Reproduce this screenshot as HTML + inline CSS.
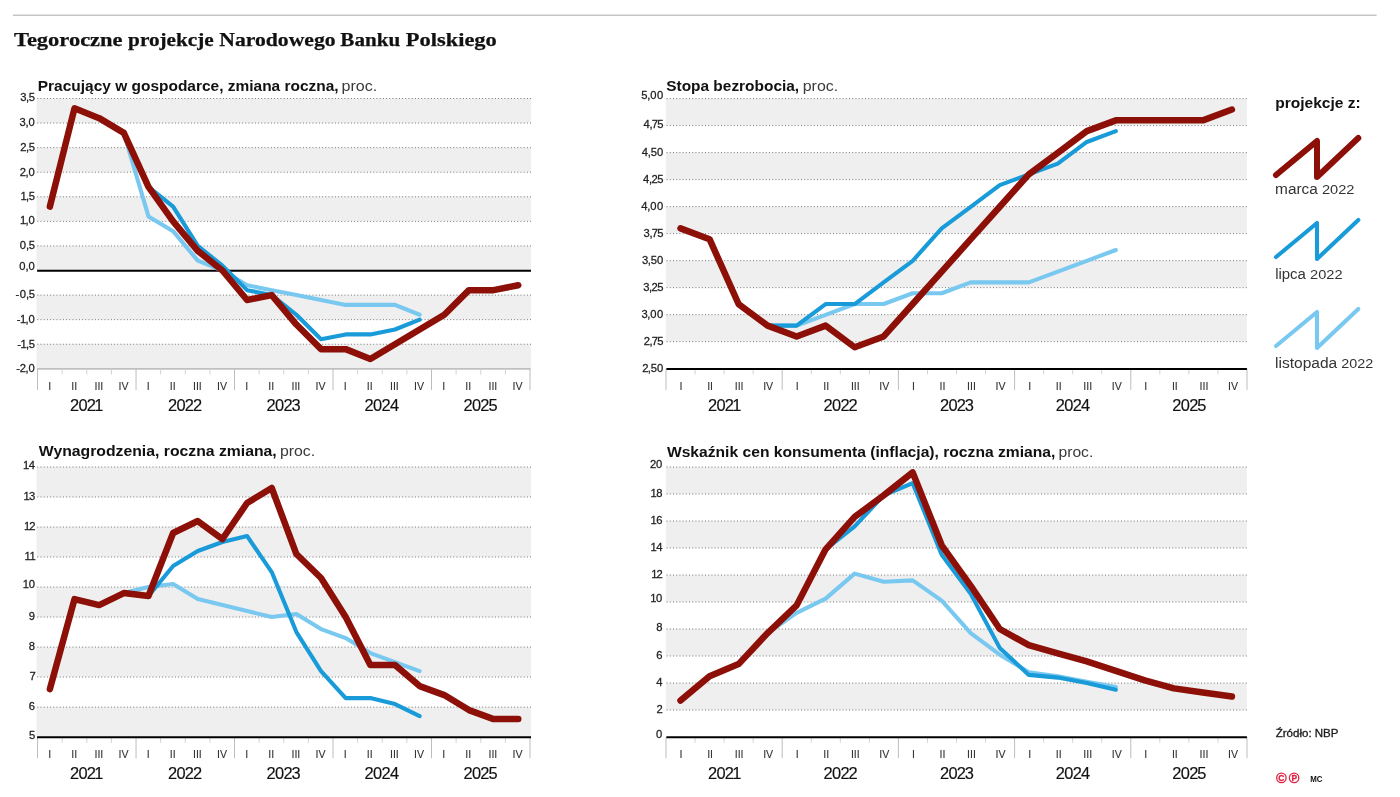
<!DOCTYPE html>
<html lang="pl"><head><meta charset="utf-8">
<title>Tegoroczne projekcje Narodowego Banku Polskiego</title>
<style>
html,body{margin:0;padding:0;background:#fff;}
body{width:1400px;height:797px;overflow:hidden;}
svg{display:block;}
text{font-family:'Liberation Sans', sans-serif;}
.ttl{font-family:'Liberation Serif', serif;font-weight:bold;fill:#111;stroke:#111;stroke-width:0.25px;}
.ct{font-weight:bold;fill:#111;}
.cp{font-weight:normal;fill:#3a3a3a;}
.yl{fill:#222;stroke:#222;stroke-width:0.25px;}
.ql{fill:#333;stroke:#333;stroke-width:0.1px;text-anchor:middle;}
.yr{fill:#111;stroke:#111;stroke-width:0.15px;}
.lg{fill:#333;}
.lgt{font-weight:bold;fill:#111;}
.src{fill:#1c1c1c;stroke:#1c1c1c;stroke-width:0.3px;}
.ln{fill:none;stroke-linejoin:round;stroke-linecap:round;}
</style></head><body>
<svg width="1400" height="797" viewBox="0 0 1400 797">
<rect x="0" y="0" width="1400" height="797" fill="#ffffff"/>
<rect x="13" y="14.6" width="1363.6" height="1.25" fill="#bbbbbb"/>
<text><tspan class="ttl" x="13.96" y="45.6" font-size="19.4" textLength="108.64" lengthAdjust="spacingAndGlyphs">Tegoroczne</tspan> <tspan class="ttl" x="128.09" y="45.6" font-size="19.4" textLength="85.66" lengthAdjust="spacingAndGlyphs">projekcje</tspan> <tspan class="ttl" x="219.28" y="45.6" font-size="19.4" textLength="116.29" lengthAdjust="spacingAndGlyphs">Narodowego</tspan> <tspan class="ttl" x="340.38" y="45.6" font-size="19.4" textLength="59.75" lengthAdjust="spacingAndGlyphs">Banku</tspan> <tspan class="ttl" x="405.86" y="45.6" font-size="19.4" textLength="90.94" lengthAdjust="spacingAndGlyphs">Polskiego</tspan></text>
<g>
<rect x="36.5" y="98.4" width="494.5" height="24.57" fill="#efefef"/>
<rect x="36.5" y="147.55" width="494.5" height="24.57" fill="#efefef"/>
<rect x="36.5" y="196.69" width="494.5" height="24.57" fill="#efefef"/>
<rect x="36.5" y="245.84" width="494.5" height="24.57" fill="#efefef"/>
<rect x="36.5" y="294.98" width="494.5" height="24.57" fill="#efefef"/>
<rect x="36.5" y="344.13" width="494.5" height="24.57" fill="#efefef"/>
<line x1="37.3" y1="98.5" x2="531" y2="98.5" stroke="#767676" stroke-width="1" stroke-dasharray="1 2.2"/>
<line x1="37.3" y1="123.07" x2="531" y2="123.07" stroke="#767676" stroke-width="1" stroke-dasharray="1 2.2"/>
<line x1="37.3" y1="147.65" x2="531" y2="147.65" stroke="#767676" stroke-width="1" stroke-dasharray="1 2.2"/>
<line x1="37.3" y1="172.22" x2="531" y2="172.22" stroke="#767676" stroke-width="1" stroke-dasharray="1 2.2"/>
<line x1="37.3" y1="196.79" x2="531" y2="196.79" stroke="#767676" stroke-width="1" stroke-dasharray="1 2.2"/>
<line x1="37.3" y1="221.36" x2="531" y2="221.36" stroke="#767676" stroke-width="1" stroke-dasharray="1 2.2"/>
<line x1="37.3" y1="245.94" x2="531" y2="245.94" stroke="#767676" stroke-width="1" stroke-dasharray="1 2.2"/>
<line x1="37.3" y1="295.08" x2="531" y2="295.08" stroke="#767676" stroke-width="1" stroke-dasharray="1 2.2"/>
<line x1="37.3" y1="319.65" x2="531" y2="319.65" stroke="#767676" stroke-width="1" stroke-dasharray="1 2.2"/>
<line x1="37.3" y1="344.23" x2="531" y2="344.23" stroke="#767676" stroke-width="1" stroke-dasharray="1 2.2"/>
<line x1="37.05" y1="368.9" x2="530.5" y2="368.9" stroke="#c0c0c0" stroke-width="1.6"/>
<line x1="37.55" y1="368.7" x2="37.55" y2="390" stroke="#bdbdbd" stroke-width="1"/>
<line x1="62.17" y1="368.7" x2="62.17" y2="374.6" stroke="#d2d2d2" stroke-width="1"/>
<line x1="86.79" y1="368.7" x2="86.79" y2="374.6" stroke="#d2d2d2" stroke-width="1"/>
<line x1="111.42" y1="368.7" x2="111.42" y2="374.6" stroke="#d2d2d2" stroke-width="1"/>
<line x1="136.04" y1="368.7" x2="136.04" y2="390" stroke="#bdbdbd" stroke-width="1"/>
<line x1="160.66" y1="368.7" x2="160.66" y2="374.6" stroke="#d2d2d2" stroke-width="1"/>
<line x1="185.28" y1="368.7" x2="185.28" y2="374.6" stroke="#d2d2d2" stroke-width="1"/>
<line x1="209.91" y1="368.7" x2="209.91" y2="374.6" stroke="#d2d2d2" stroke-width="1"/>
<line x1="234.53" y1="368.7" x2="234.53" y2="390" stroke="#bdbdbd" stroke-width="1"/>
<line x1="259.15" y1="368.7" x2="259.15" y2="374.6" stroke="#d2d2d2" stroke-width="1"/>
<line x1="283.77" y1="368.7" x2="283.77" y2="374.6" stroke="#d2d2d2" stroke-width="1"/>
<line x1="308.4" y1="368.7" x2="308.4" y2="374.6" stroke="#d2d2d2" stroke-width="1"/>
<line x1="333.02" y1="368.7" x2="333.02" y2="390" stroke="#bdbdbd" stroke-width="1"/>
<line x1="357.64" y1="368.7" x2="357.64" y2="374.6" stroke="#d2d2d2" stroke-width="1"/>
<line x1="382.26" y1="368.7" x2="382.26" y2="374.6" stroke="#d2d2d2" stroke-width="1"/>
<line x1="406.89" y1="368.7" x2="406.89" y2="374.6" stroke="#d2d2d2" stroke-width="1"/>
<line x1="431.51" y1="368.7" x2="431.51" y2="390" stroke="#bdbdbd" stroke-width="1"/>
<line x1="456.13" y1="368.7" x2="456.13" y2="374.6" stroke="#d2d2d2" stroke-width="1"/>
<line x1="480.75" y1="368.7" x2="480.75" y2="374.6" stroke="#d2d2d2" stroke-width="1"/>
<line x1="505.38" y1="368.7" x2="505.38" y2="374.6" stroke="#d2d2d2" stroke-width="1"/>
<line x1="530" y1="368.7" x2="530" y2="390" stroke="#bdbdbd" stroke-width="1"/>
<line x1="37.1" y1="270.71" x2="531" y2="270.71" stroke="#000" stroke-width="2"/>
<text class="yl" transform="translate(34.55 101) scale(1.06 1)" font-size="10.6" x="-13.58 -8.09 -5.44" y="0">3,5</text>
<text class="yl" transform="translate(34.55 126.37) scale(1.06 1)" font-size="10.6" x="-14.14 -8.65 -5.72" y="0">3,0</text>
<text class="yl" transform="translate(34.55 150.95) scale(1.06 1)" font-size="10.6" x="-13.39 -8.09 -5.44" y="0">2,5</text>
<text class="yl" transform="translate(34.55 175.52) scale(1.06 1)" font-size="10.6" x="-13.96 -8.65 -5.72" y="0">2,0</text>
<text class="yl" transform="translate(34.55 200.09) scale(1.06 1)" font-size="10.6" x="-13.24 -8.09 -5.44" y="0">1,5</text>
<text class="yl" transform="translate(34.55 223.96) scale(1.06 1)" font-size="10.6" x="-13.81 -8.65 -5.72" y="0">1,0</text>
<text class="yl" transform="translate(34.55 249.24) scale(1.06 1)" font-size="10.6" x="-13.93 -8.09 -5.44" y="0">0,5</text>
<text class="yl" transform="translate(34.55 270.41) scale(1.06 1)" font-size="10.6" x="-14.5 -8.65 -5.72" y="0">0,0</text>
<text class="yl" transform="translate(34.55 298.38) scale(1.06 1)" font-size="10.6" x="-17.93 -13.93 -8.09 -5.44" y="0">-0,5</text>
<text class="yl" transform="translate(34.55 322.95) scale(1.06 1)" font-size="10.6" x="-16.8 -13.81 -8.65 -5.72" y="0">-1,0</text>
<text class="yl" transform="translate(34.55 347.53) scale(1.06 1)" font-size="10.6" x="-16.23 -13.24 -8.09 -5.44" y="0">-1,5</text>
<text class="yl" transform="translate(34.55 372.1) scale(1.06 1)" font-size="10.6" x="-17.36 -13.96 -8.65 -5.72" y="0">-2,0</text>
<text class="ql" x="49.66" y="390" font-size="10.6">I</text>
<text class="ql" x="74.28" y="390" font-size="10.6">II</text>
<text class="ql" x="98.91" y="390" font-size="10.6">III</text>
<text class="ql" x="123.53" y="390" font-size="10.6">IV</text>
<text class="ql" x="148.15" y="390" font-size="10.6">I</text>
<text class="ql" x="172.77" y="390" font-size="10.6">II</text>
<text class="ql" x="197.4" y="390" font-size="10.6">III</text>
<text class="ql" x="222.02" y="390" font-size="10.6">IV</text>
<text class="ql" x="246.64" y="390" font-size="10.6">I</text>
<text class="ql" x="271.26" y="390" font-size="10.6">II</text>
<text class="ql" x="295.89" y="390" font-size="10.6">III</text>
<text class="ql" x="320.51" y="390" font-size="10.6">IV</text>
<text class="ql" x="345.13" y="390" font-size="10.6">I</text>
<text class="ql" x="369.75" y="390" font-size="10.6">II</text>
<text class="ql" x="394.38" y="390" font-size="10.6">III</text>
<text class="ql" x="419" y="390" font-size="10.6">IV</text>
<text class="ql" x="443.62" y="390" font-size="10.6">I</text>
<text class="ql" x="468.24" y="390" font-size="10.6">II</text>
<text class="ql" x="492.87" y="390" font-size="10.6">III</text>
<text class="ql" x="517.49" y="390" font-size="10.6">IV</text>
<text class="yr" transform="translate(86.49 411) scale(1.04 1)" font-size="15.8" x="-15.91 -7.75 0.34 7.4" y="0">2021</text>
<text class="yr" transform="translate(184.98 411) scale(1.04 1)" font-size="15.8" x="-16.44 -8.28 -0.19 7.6" y="0">2022</text>
<text class="yr" transform="translate(283.47 411) scale(1.04 1)" font-size="15.8" x="-16.3 -8.13 -0.05 7.67" y="0">2023</text>
<text class="yr" transform="translate(381.96 411) scale(1.04 1)" font-size="15.8" x="-16.68 -8.52 -0.43 7.67" y="0">2024</text>
<text class="yr" transform="translate(480.45 411) scale(1.04 1)" font-size="15.8" x="-16.4 -8.23 -0.15 7.63" y="0">2025</text>
<polyline class="ln" points="123.82,132.9 148.47,216.45 173.12,231.19 197.78,260.68 222.43,270.51 247.08,285.25 271.73,290.17 296.39,295.08 321.04,300 345.69,304.91 370.34,304.91 395,304.91 419.65,314.74" stroke="#79c8f0" stroke-width="4.1"/>
<polyline class="ln" points="123.82,132.9 148.47,186.96 173.12,206.62 197.78,245.94 222.43,265.59 247.08,290.17 271.73,295.08 296.39,314.74 321.04,339.31 345.69,334.4 370.34,334.4 395,329.48 419.65,319.65" stroke="#189bd8" stroke-width="4.1"/>
<polyline class="ln" points="49.86,206.62 74.51,108.33 99.17,118.16 123.82,132.9 148.47,186.96 173.12,221.36 197.78,250.85 222.43,270.51 247.08,300 271.73,295.08 296.39,324.57 321.04,349.14 345.69,349.14 370.34,358.97 395,344.23 419.65,329.48 444.3,314.74 468.95,290.17 493.61,290.17 518.26,285.25" stroke="#8c1007" stroke-width="6.5"/>
<text><tspan class="ct" x="37.79" y="90.7" font-size="15.3" textLength="300.86" lengthAdjust="spacingAndGlyphs">Pracujący w gospodarce, zmiana roczna,</tspan> <tspan class="cp" x="341.53" y="90.7" font-size="15.3" textLength="35.79" lengthAdjust="spacingAndGlyphs">proc.</tspan></text>
</g>
<g>
<rect x="665.8" y="98.5" width="581.1" height="27.01" fill="#efefef"/>
<rect x="665.8" y="152.52" width="581.1" height="27.01" fill="#efefef"/>
<rect x="665.8" y="206.54" width="581.1" height="27.01" fill="#efefef"/>
<rect x="665.8" y="260.56" width="581.1" height="27.01" fill="#efefef"/>
<rect x="665.8" y="314.58" width="581.1" height="27.01" fill="#efefef"/>
<line x1="666.6" y1="98.6" x2="1246.9" y2="98.6" stroke="#767676" stroke-width="1" stroke-dasharray="1 2.2"/>
<line x1="666.6" y1="125.61" x2="1246.9" y2="125.61" stroke="#767676" stroke-width="1" stroke-dasharray="1 2.2"/>
<line x1="666.6" y1="152.62" x2="1246.9" y2="152.62" stroke="#767676" stroke-width="1" stroke-dasharray="1 2.2"/>
<line x1="666.6" y1="179.63" x2="1246.9" y2="179.63" stroke="#767676" stroke-width="1" stroke-dasharray="1 2.2"/>
<line x1="666.6" y1="206.64" x2="1246.9" y2="206.64" stroke="#767676" stroke-width="1" stroke-dasharray="1 2.2"/>
<line x1="666.6" y1="233.65" x2="1246.9" y2="233.65" stroke="#767676" stroke-width="1" stroke-dasharray="1 2.2"/>
<line x1="666.6" y1="260.66" x2="1246.9" y2="260.66" stroke="#767676" stroke-width="1" stroke-dasharray="1 2.2"/>
<line x1="666.6" y1="287.67" x2="1246.9" y2="287.67" stroke="#767676" stroke-width="1" stroke-dasharray="1 2.2"/>
<line x1="666.6" y1="314.68" x2="1246.9" y2="314.68" stroke="#767676" stroke-width="1" stroke-dasharray="1 2.2"/>
<line x1="666.6" y1="341.69" x2="1246.9" y2="341.69" stroke="#767676" stroke-width="1" stroke-dasharray="1 2.2"/>
<line x1="666" y1="368.6" x2="666" y2="389.9" stroke="#bdbdbd" stroke-width="1"/>
<line x1="695.05" y1="368.6" x2="695.05" y2="374.5" stroke="#d2d2d2" stroke-width="1"/>
<line x1="724.1" y1="368.6" x2="724.1" y2="374.5" stroke="#d2d2d2" stroke-width="1"/>
<line x1="753.15" y1="368.6" x2="753.15" y2="374.5" stroke="#d2d2d2" stroke-width="1"/>
<line x1="782.2" y1="368.6" x2="782.2" y2="389.9" stroke="#bdbdbd" stroke-width="1"/>
<line x1="811.25" y1="368.6" x2="811.25" y2="374.5" stroke="#d2d2d2" stroke-width="1"/>
<line x1="840.3" y1="368.6" x2="840.3" y2="374.5" stroke="#d2d2d2" stroke-width="1"/>
<line x1="869.35" y1="368.6" x2="869.35" y2="374.5" stroke="#d2d2d2" stroke-width="1"/>
<line x1="898.4" y1="368.6" x2="898.4" y2="389.9" stroke="#bdbdbd" stroke-width="1"/>
<line x1="927.45" y1="368.6" x2="927.45" y2="374.5" stroke="#d2d2d2" stroke-width="1"/>
<line x1="956.5" y1="368.6" x2="956.5" y2="374.5" stroke="#d2d2d2" stroke-width="1"/>
<line x1="985.55" y1="368.6" x2="985.55" y2="374.5" stroke="#d2d2d2" stroke-width="1"/>
<line x1="1014.6" y1="368.6" x2="1014.6" y2="389.9" stroke="#bdbdbd" stroke-width="1"/>
<line x1="1043.65" y1="368.6" x2="1043.65" y2="374.5" stroke="#d2d2d2" stroke-width="1"/>
<line x1="1072.7" y1="368.6" x2="1072.7" y2="374.5" stroke="#d2d2d2" stroke-width="1"/>
<line x1="1101.75" y1="368.6" x2="1101.75" y2="374.5" stroke="#d2d2d2" stroke-width="1"/>
<line x1="1130.8" y1="368.6" x2="1130.8" y2="389.9" stroke="#bdbdbd" stroke-width="1"/>
<line x1="1159.85" y1="368.6" x2="1159.85" y2="374.5" stroke="#d2d2d2" stroke-width="1"/>
<line x1="1188.9" y1="368.6" x2="1188.9" y2="374.5" stroke="#d2d2d2" stroke-width="1"/>
<line x1="1217.95" y1="368.6" x2="1217.95" y2="374.5" stroke="#d2d2d2" stroke-width="1"/>
<line x1="1247" y1="368.6" x2="1247" y2="389.9" stroke="#bdbdbd" stroke-width="1"/>
<line x1="666.4" y1="368.9" x2="1246.9" y2="368.9" stroke="#000" stroke-width="2"/>
<text class="yl" transform="translate(663 98.9) scale(1.06 1)" font-size="10.6" x="-20.44 -14.88 -11.95 -5.72" y="0">5,00</text>
<text class="yl" transform="translate(663 127.81) scale(1.06 1)" font-size="10.6" x="-18.48 -12.8 -10.66 -5.44" y="0">4,75</text>
<text class="yl" transform="translate(663 155.92) scale(1.06 1)" font-size="10.6" x="-19.99 -14.31 -11.67 -5.72" y="0">4,50</text>
<text class="yl" transform="translate(663 182.93) scale(1.06 1)" font-size="10.6" x="-18.86 -13.18 -10.85 -5.44" y="0">4,25</text>
<text class="yl" transform="translate(663 209.94) scale(1.06 1)" font-size="10.6" x="-20.56 -14.88 -11.95 -5.72" y="0">4,00</text>
<text class="yl" transform="translate(663 236.95) scale(1.06 1)" font-size="10.6" x="-18.29 -12.8 -10.66 -5.44" y="0">3,75</text>
<text class="yl" transform="translate(663 263.96) scale(1.06 1)" font-size="10.6" x="-19.8 -14.31 -11.67 -5.72" y="0">3,50</text>
<text class="yl" transform="translate(663 290.97) scale(1.06 1)" font-size="10.6" x="-18.67 -13.18 -10.85 -5.44" y="0">3,25</text>
<text class="yl" transform="translate(663 317.98) scale(1.06 1)" font-size="10.6" x="-20.37 -14.88 -11.95 -5.72" y="0">3,00</text>
<text class="yl" transform="translate(663 344.99) scale(1.06 1)" font-size="10.6" x="-18.11 -12.8 -10.66 -5.44" y="0">2,75</text>
<text class="yl" transform="translate(663 371.6) scale(1.06 1)" font-size="10.6" x="-19.62 -14.31 -11.67 -5.72" y="0">2,50</text>
<text class="ql" x="681.02" y="389.9" font-size="10.6">I</text>
<text class="ql" x="710.08" y="389.9" font-size="10.6">II</text>
<text class="ql" x="739.12" y="389.9" font-size="10.6">III</text>
<text class="ql" x="768.17" y="389.9" font-size="10.6">IV</text>
<text class="ql" x="797.23" y="389.9" font-size="10.6">I</text>
<text class="ql" x="826.27" y="389.9" font-size="10.6">II</text>
<text class="ql" x="855.33" y="389.9" font-size="10.6">III</text>
<text class="ql" x="884.38" y="389.9" font-size="10.6">IV</text>
<text class="ql" x="913.42" y="389.9" font-size="10.6">I</text>
<text class="ql" x="942.48" y="389.9" font-size="10.6">II</text>
<text class="ql" x="971.53" y="389.9" font-size="10.6">III</text>
<text class="ql" x="1000.58" y="389.9" font-size="10.6">IV</text>
<text class="ql" x="1029.62" y="389.9" font-size="10.6">I</text>
<text class="ql" x="1058.67" y="389.9" font-size="10.6">II</text>
<text class="ql" x="1087.72" y="389.9" font-size="10.6">III</text>
<text class="ql" x="1116.78" y="389.9" font-size="10.6">IV</text>
<text class="ql" x="1145.83" y="389.9" font-size="10.6">I</text>
<text class="ql" x="1174.88" y="389.9" font-size="10.6">II</text>
<text class="ql" x="1203.93" y="389.9" font-size="10.6">III</text>
<text class="ql" x="1232.97" y="389.9" font-size="10.6">IV</text>
<text class="yr" transform="translate(724.5 410.9) scale(1.04 1)" font-size="15.8" x="-15.91 -7.75 0.34 7.4" y="0">2021</text>
<text class="yr" transform="translate(840.7 410.9) scale(1.04 1)" font-size="15.8" x="-16.44 -8.28 -0.19 7.6" y="0">2022</text>
<text class="yr" transform="translate(956.9 410.9) scale(1.04 1)" font-size="15.8" x="-16.3 -8.13 -0.05 7.67" y="0">2023</text>
<text class="yr" transform="translate(1073.1 410.9) scale(1.04 1)" font-size="15.8" x="-16.68 -8.52 -0.43 7.67" y="0">2024</text>
<text class="yr" transform="translate(1189.3 410.9) scale(1.04 1)" font-size="15.8" x="-16.4 -8.23 -0.15 7.63" y="0">2025</text>
<polyline class="ln" points="767.58,325.63 796.61,325.63 825.62,314.83 854.65,304.03 883.66,304.03 912.68,293.22 941.71,293.22 970.73,282.42 999.75,282.42 1028.77,282.42 1057.78,271.61 1086.8,260.81 1115.83,250.01" stroke="#79c8f0" stroke-width="4.1"/>
<polyline class="ln" points="767.58,325.63 796.61,325.63 825.62,304.03 854.65,304.03 883.66,282.42 912.68,260.81 941.71,228.4 970.73,206.79 999.75,185.18 1028.77,174.38 1057.78,163.57 1086.8,141.97 1115.83,131.16" stroke="#189bd8" stroke-width="4.1"/>
<polyline class="ln" points="680.52,228.4 709.55,239.2 738.57,304.03 767.58,325.63 796.61,336.44 825.62,325.63 854.65,347.24 883.66,336.44 912.68,304.03 941.71,271.61 970.73,239.2 999.75,206.79 1028.77,174.38 1057.78,152.77 1086.8,131.16 1115.83,120.36 1144.85,120.36 1173.87,120.36 1202.89,120.36 1231.9,109.55" stroke="#8c1007" stroke-width="6.5"/>
<text><tspan class="ct" x="666.21" y="91.1" font-size="15.3" textLength="132.95" lengthAdjust="spacingAndGlyphs">Stopa bezrobocia,</tspan> <tspan class="cp" x="802.74" y="91.1" font-size="15.3" textLength="35.46" lengthAdjust="spacingAndGlyphs">proc.</tspan></text>
</g>
<g>
<rect x="36.5" y="466.9" width="494.5" height="30.01" fill="#efefef"/>
<rect x="36.5" y="526.92" width="494.5" height="30.01" fill="#efefef"/>
<rect x="36.5" y="586.94" width="494.5" height="30.01" fill="#efefef"/>
<rect x="36.5" y="646.97" width="494.5" height="30.01" fill="#efefef"/>
<rect x="36.5" y="706.99" width="494.5" height="30.01" fill="#efefef"/>
<line x1="37.3" y1="467" x2="531" y2="467" stroke="#767676" stroke-width="1" stroke-dasharray="1 2.2"/>
<line x1="37.3" y1="497.01" x2="531" y2="497.01" stroke="#767676" stroke-width="1" stroke-dasharray="1 2.2"/>
<line x1="37.3" y1="527.02" x2="531" y2="527.02" stroke="#767676" stroke-width="1" stroke-dasharray="1 2.2"/>
<line x1="37.3" y1="557.03" x2="531" y2="557.03" stroke="#767676" stroke-width="1" stroke-dasharray="1 2.2"/>
<line x1="37.3" y1="587.04" x2="531" y2="587.04" stroke="#767676" stroke-width="1" stroke-dasharray="1 2.2"/>
<line x1="37.3" y1="617.06" x2="531" y2="617.06" stroke="#767676" stroke-width="1" stroke-dasharray="1 2.2"/>
<line x1="37.3" y1="647.07" x2="531" y2="647.07" stroke="#767676" stroke-width="1" stroke-dasharray="1 2.2"/>
<line x1="37.3" y1="677.08" x2="531" y2="677.08" stroke="#767676" stroke-width="1" stroke-dasharray="1 2.2"/>
<line x1="37.3" y1="707.09" x2="531" y2="707.09" stroke="#767676" stroke-width="1" stroke-dasharray="1 2.2"/>
<line x1="37.55" y1="737" x2="37.55" y2="758.3" stroke="#bdbdbd" stroke-width="1"/>
<line x1="62.17" y1="737" x2="62.17" y2="742.9" stroke="#d2d2d2" stroke-width="1"/>
<line x1="86.79" y1="737" x2="86.79" y2="742.9" stroke="#d2d2d2" stroke-width="1"/>
<line x1="111.42" y1="737" x2="111.42" y2="742.9" stroke="#d2d2d2" stroke-width="1"/>
<line x1="136.04" y1="737" x2="136.04" y2="758.3" stroke="#bdbdbd" stroke-width="1"/>
<line x1="160.66" y1="737" x2="160.66" y2="742.9" stroke="#d2d2d2" stroke-width="1"/>
<line x1="185.28" y1="737" x2="185.28" y2="742.9" stroke="#d2d2d2" stroke-width="1"/>
<line x1="209.91" y1="737" x2="209.91" y2="742.9" stroke="#d2d2d2" stroke-width="1"/>
<line x1="234.53" y1="737" x2="234.53" y2="758.3" stroke="#bdbdbd" stroke-width="1"/>
<line x1="259.15" y1="737" x2="259.15" y2="742.9" stroke="#d2d2d2" stroke-width="1"/>
<line x1="283.77" y1="737" x2="283.77" y2="742.9" stroke="#d2d2d2" stroke-width="1"/>
<line x1="308.4" y1="737" x2="308.4" y2="742.9" stroke="#d2d2d2" stroke-width="1"/>
<line x1="333.02" y1="737" x2="333.02" y2="758.3" stroke="#bdbdbd" stroke-width="1"/>
<line x1="357.64" y1="737" x2="357.64" y2="742.9" stroke="#d2d2d2" stroke-width="1"/>
<line x1="382.26" y1="737" x2="382.26" y2="742.9" stroke="#d2d2d2" stroke-width="1"/>
<line x1="406.89" y1="737" x2="406.89" y2="742.9" stroke="#d2d2d2" stroke-width="1"/>
<line x1="431.51" y1="737" x2="431.51" y2="758.3" stroke="#bdbdbd" stroke-width="1"/>
<line x1="456.13" y1="737" x2="456.13" y2="742.9" stroke="#d2d2d2" stroke-width="1"/>
<line x1="480.75" y1="737" x2="480.75" y2="742.9" stroke="#d2d2d2" stroke-width="1"/>
<line x1="505.38" y1="737" x2="505.38" y2="742.9" stroke="#d2d2d2" stroke-width="1"/>
<line x1="530" y1="737" x2="530" y2="758.3" stroke="#bdbdbd" stroke-width="1"/>
<line x1="37.1" y1="737.3" x2="531" y2="737.3" stroke="#000" stroke-width="2"/>
<text class="yl" transform="translate(34.7 469.4) scale(1.06 1)" font-size="10.6" x="-10.98 -5.56" y="0">14</text>
<text class="yl" transform="translate(34.7 499.81) scale(1.06 1)" font-size="10.6" x="-10.6 -5.37" y="0">13</text>
<text class="yl" transform="translate(34.7 530.32) scale(1.06 1)" font-size="10.6" x="-10.13 -5.18" y="0">12</text>
<text class="yl" transform="translate(34.7 559.93) scale(1.06 1)" font-size="10.6" x="-9.56 -5.03" y="0">11</text>
<text class="yl" transform="translate(34.7 587.74) scale(1.06 1)" font-size="10.6" x="-11.26 -5.72" y="0">10</text>
<text class="yl" transform="translate(34.7 620.16) scale(1.06 1)" font-size="10.6" x="-5.54" y="0">9</text>
<text class="yl" transform="translate(34.7 650.37) scale(1.06 1)" font-size="10.6" x="-5.54" y="0">8</text>
<text class="yl" transform="translate(34.7 680.38) scale(1.06 1)" font-size="10.6" x="-5" y="0">7</text>
<text class="yl" transform="translate(34.7 710.39) scale(1.06 1)" font-size="10.6" x="-5.59" y="0">6</text>
<text class="yl" transform="translate(34.7 738.5) scale(1.06 1)" font-size="10.6" x="-5.44" y="0">5</text>
<text class="ql" x="49.66" y="758.3" font-size="10.6">I</text>
<text class="ql" x="74.28" y="758.3" font-size="10.6">II</text>
<text class="ql" x="98.91" y="758.3" font-size="10.6">III</text>
<text class="ql" x="123.53" y="758.3" font-size="10.6">IV</text>
<text class="ql" x="148.15" y="758.3" font-size="10.6">I</text>
<text class="ql" x="172.77" y="758.3" font-size="10.6">II</text>
<text class="ql" x="197.4" y="758.3" font-size="10.6">III</text>
<text class="ql" x="222.02" y="758.3" font-size="10.6">IV</text>
<text class="ql" x="246.64" y="758.3" font-size="10.6">I</text>
<text class="ql" x="271.26" y="758.3" font-size="10.6">II</text>
<text class="ql" x="295.89" y="758.3" font-size="10.6">III</text>
<text class="ql" x="320.51" y="758.3" font-size="10.6">IV</text>
<text class="ql" x="345.13" y="758.3" font-size="10.6">I</text>
<text class="ql" x="369.75" y="758.3" font-size="10.6">II</text>
<text class="ql" x="394.38" y="758.3" font-size="10.6">III</text>
<text class="ql" x="419" y="758.3" font-size="10.6">IV</text>
<text class="ql" x="443.62" y="758.3" font-size="10.6">I</text>
<text class="ql" x="468.24" y="758.3" font-size="10.6">II</text>
<text class="ql" x="492.87" y="758.3" font-size="10.6">III</text>
<text class="ql" x="517.49" y="758.3" font-size="10.6">IV</text>
<text class="yr" transform="translate(86.49 779.3) scale(1.04 1)" font-size="15.8" x="-15.91 -7.75 0.34 7.4" y="0">2021</text>
<text class="yr" transform="translate(184.98 779.3) scale(1.04 1)" font-size="15.8" x="-16.44 -8.28 -0.19 7.6" y="0">2022</text>
<text class="yr" transform="translate(283.47 779.3) scale(1.04 1)" font-size="15.8" x="-16.3 -8.13 -0.05 7.67" y="0">2023</text>
<text class="yr" transform="translate(381.96 779.3) scale(1.04 1)" font-size="15.8" x="-16.68 -8.52 -0.43 7.67" y="0">2024</text>
<text class="yr" transform="translate(480.45 779.3) scale(1.04 1)" font-size="15.8" x="-16.4 -8.23 -0.15 7.63" y="0">2025</text>
<polyline class="ln" points="123.82,593.05 148.47,587.04 173.12,584.04 197.78,599.05 222.43,605.05 247.08,611.05 271.73,617.06 296.39,614.05 321.04,629.06 345.69,638.06 370.34,653.07 395,662.07 419.65,671.08" stroke="#79c8f0" stroke-width="4.1"/>
<polyline class="ln" points="123.82,593.05 148.47,596.05 173.12,566.04 197.78,551.03 222.43,542.03 247.08,536.03 271.73,572.04 296.39,632.06 321.04,671.08 345.69,698.09 370.34,698.09 395,704.09 419.65,716.09" stroke="#189bd8" stroke-width="4.1"/>
<polyline class="ln" points="49.86,689.08 74.51,599.05 99.17,605.05 123.82,593.05 148.47,596.05 173.12,533.02 197.78,521.02 222.43,539.03 247.08,503.01 271.73,488.01 296.39,554.03 321.04,578.04 345.69,617.06 370.34,665.07 395,665.07 419.65,686.08 444.3,695.08 468.95,710.09 493.61,719.09 518.26,719.09" stroke="#8c1007" stroke-width="6.5"/>
<text><tspan class="ct" x="38.8" y="455.6" font-size="15.3" textLength="237.97" lengthAdjust="spacingAndGlyphs">Wynagrodzenia, roczna zmiana,</tspan> <tspan class="cp" x="279.95" y="455.6" font-size="15.3" textLength="35.25" lengthAdjust="spacingAndGlyphs">proc.</tspan></text>
</g>
<g>
<rect x="665.8" y="466.9" width="581.1" height="27" fill="#efefef"/>
<rect x="665.8" y="520.9" width="581.1" height="27" fill="#efefef"/>
<rect x="665.8" y="574.9" width="581.1" height="27" fill="#efefef"/>
<rect x="665.8" y="628.9" width="581.1" height="27" fill="#efefef"/>
<rect x="665.8" y="682.9" width="581.1" height="27" fill="#efefef"/>
<line x1="666.6" y1="467" x2="1246.9" y2="467" stroke="#767676" stroke-width="1" stroke-dasharray="1 2.2"/>
<line x1="666.6" y1="494" x2="1246.9" y2="494" stroke="#767676" stroke-width="1" stroke-dasharray="1 2.2"/>
<line x1="666.6" y1="521" x2="1246.9" y2="521" stroke="#767676" stroke-width="1" stroke-dasharray="1 2.2"/>
<line x1="666.6" y1="548" x2="1246.9" y2="548" stroke="#767676" stroke-width="1" stroke-dasharray="1 2.2"/>
<line x1="666.6" y1="575" x2="1246.9" y2="575" stroke="#767676" stroke-width="1" stroke-dasharray="1 2.2"/>
<line x1="666.6" y1="602" x2="1246.9" y2="602" stroke="#767676" stroke-width="1" stroke-dasharray="1 2.2"/>
<line x1="666.6" y1="629" x2="1246.9" y2="629" stroke="#767676" stroke-width="1" stroke-dasharray="1 2.2"/>
<line x1="666.6" y1="656" x2="1246.9" y2="656" stroke="#767676" stroke-width="1" stroke-dasharray="1 2.2"/>
<line x1="666.6" y1="683" x2="1246.9" y2="683" stroke="#767676" stroke-width="1" stroke-dasharray="1 2.2"/>
<line x1="666.6" y1="710" x2="1246.9" y2="710" stroke="#767676" stroke-width="1" stroke-dasharray="1 2.2"/>
<line x1="666" y1="736.9" x2="666" y2="758.2" stroke="#bdbdbd" stroke-width="1"/>
<line x1="695.05" y1="736.9" x2="695.05" y2="742.8" stroke="#d2d2d2" stroke-width="1"/>
<line x1="724.1" y1="736.9" x2="724.1" y2="742.8" stroke="#d2d2d2" stroke-width="1"/>
<line x1="753.15" y1="736.9" x2="753.15" y2="742.8" stroke="#d2d2d2" stroke-width="1"/>
<line x1="782.2" y1="736.9" x2="782.2" y2="758.2" stroke="#bdbdbd" stroke-width="1"/>
<line x1="811.25" y1="736.9" x2="811.25" y2="742.8" stroke="#d2d2d2" stroke-width="1"/>
<line x1="840.3" y1="736.9" x2="840.3" y2="742.8" stroke="#d2d2d2" stroke-width="1"/>
<line x1="869.35" y1="736.9" x2="869.35" y2="742.8" stroke="#d2d2d2" stroke-width="1"/>
<line x1="898.4" y1="736.9" x2="898.4" y2="758.2" stroke="#bdbdbd" stroke-width="1"/>
<line x1="927.45" y1="736.9" x2="927.45" y2="742.8" stroke="#d2d2d2" stroke-width="1"/>
<line x1="956.5" y1="736.9" x2="956.5" y2="742.8" stroke="#d2d2d2" stroke-width="1"/>
<line x1="985.55" y1="736.9" x2="985.55" y2="742.8" stroke="#d2d2d2" stroke-width="1"/>
<line x1="1014.6" y1="736.9" x2="1014.6" y2="758.2" stroke="#bdbdbd" stroke-width="1"/>
<line x1="1043.65" y1="736.9" x2="1043.65" y2="742.8" stroke="#d2d2d2" stroke-width="1"/>
<line x1="1072.7" y1="736.9" x2="1072.7" y2="742.8" stroke="#d2d2d2" stroke-width="1"/>
<line x1="1101.75" y1="736.9" x2="1101.75" y2="742.8" stroke="#d2d2d2" stroke-width="1"/>
<line x1="1130.8" y1="736.9" x2="1130.8" y2="758.2" stroke="#bdbdbd" stroke-width="1"/>
<line x1="1159.85" y1="736.9" x2="1159.85" y2="742.8" stroke="#d2d2d2" stroke-width="1"/>
<line x1="1188.9" y1="736.9" x2="1188.9" y2="742.8" stroke="#d2d2d2" stroke-width="1"/>
<line x1="1217.95" y1="736.9" x2="1217.95" y2="742.8" stroke="#d2d2d2" stroke-width="1"/>
<line x1="1247" y1="736.9" x2="1247" y2="758.2" stroke="#bdbdbd" stroke-width="1"/>
<line x1="666.4" y1="737.2" x2="1246.9" y2="737.2" stroke="#000" stroke-width="2"/>
<text class="yl" transform="translate(662.1 467.5) scale(1.06 1)" font-size="10.6" x="-11.41 -5.72" y="0">20</text>
<text class="yl" transform="translate(662.1 496.7) scale(1.06 1)" font-size="10.6" x="-10.88 -5.54" y="0">18</text>
<text class="yl" transform="translate(662.1 523.6) scale(1.06 1)" font-size="10.6" x="-10.88 -5.59" y="0">16</text>
<text class="yl" transform="translate(662.1 550.6) scale(1.06 1)" font-size="10.6" x="-10.98 -5.56" y="0">14</text>
<text class="yl" transform="translate(662.1 577.7) scale(1.06 1)" font-size="10.6" x="-10.13 -5.18" y="0">12</text>
<text class="yl" transform="translate(662.1 602.2) scale(1.06 1)" font-size="10.6" x="-11.26 -5.72" y="0">10</text>
<text class="yl" transform="translate(662.1 631.1) scale(1.06 1)" font-size="10.6" x="-5.54" y="0">8</text>
<text class="yl" transform="translate(662.1 658.7) scale(1.06 1)" font-size="10.6" x="-5.59" y="0">6</text>
<text class="yl" transform="translate(662.1 685.9) scale(1.06 1)" font-size="10.6" x="-5.56" y="0">4</text>
<text class="yl" transform="translate(662.1 713.3) scale(1.06 1)" font-size="10.6" x="-5.18" y="0">2</text>
<text class="yl" transform="translate(662.1 737.9) scale(1.06 1)" font-size="10.6" x="-5.72" y="0">0</text>
<text class="ql" x="681.02" y="758.2" font-size="10.6">I</text>
<text class="ql" x="710.08" y="758.2" font-size="10.6">II</text>
<text class="ql" x="739.12" y="758.2" font-size="10.6">III</text>
<text class="ql" x="768.17" y="758.2" font-size="10.6">IV</text>
<text class="ql" x="797.23" y="758.2" font-size="10.6">I</text>
<text class="ql" x="826.27" y="758.2" font-size="10.6">II</text>
<text class="ql" x="855.33" y="758.2" font-size="10.6">III</text>
<text class="ql" x="884.38" y="758.2" font-size="10.6">IV</text>
<text class="ql" x="913.42" y="758.2" font-size="10.6">I</text>
<text class="ql" x="942.48" y="758.2" font-size="10.6">II</text>
<text class="ql" x="971.53" y="758.2" font-size="10.6">III</text>
<text class="ql" x="1000.58" y="758.2" font-size="10.6">IV</text>
<text class="ql" x="1029.62" y="758.2" font-size="10.6">I</text>
<text class="ql" x="1058.67" y="758.2" font-size="10.6">II</text>
<text class="ql" x="1087.72" y="758.2" font-size="10.6">III</text>
<text class="ql" x="1116.78" y="758.2" font-size="10.6">IV</text>
<text class="ql" x="1145.83" y="758.2" font-size="10.6">I</text>
<text class="ql" x="1174.88" y="758.2" font-size="10.6">II</text>
<text class="ql" x="1203.93" y="758.2" font-size="10.6">III</text>
<text class="ql" x="1232.97" y="758.2" font-size="10.6">IV</text>
<text class="yr" transform="translate(724.5 779.2) scale(1.04 1)" font-size="15.8" x="-15.91 -7.75 0.34 7.4" y="0">2021</text>
<text class="yr" transform="translate(840.7 779.2) scale(1.04 1)" font-size="15.8" x="-16.44 -8.28 -0.19 7.6" y="0">2022</text>
<text class="yr" transform="translate(956.9 779.2) scale(1.04 1)" font-size="15.8" x="-16.3 -8.13 -0.05 7.67" y="0">2023</text>
<text class="yr" transform="translate(1073.1 779.2) scale(1.04 1)" font-size="15.8" x="-16.68 -8.52 -0.43 7.67" y="0">2024</text>
<text class="yr" transform="translate(1189.3 779.2) scale(1.04 1)" font-size="15.8" x="-16.4 -8.23 -0.15 7.63" y="0">2025</text>
<polyline class="ln" points="767.58,633.05 796.61,612.8 825.62,598.62 854.65,573.65 883.66,581.75 912.68,580.4 941.71,600.65 970.73,633.05 999.75,654.65 1028.77,672.2 1057.78,676.25 1086.8,681.65 1115.83,687.05" stroke="#79c8f0" stroke-width="4.1"/>
<polyline class="ln" points="767.58,633.05 796.61,605.38 825.62,549.35 854.65,526.4 883.66,495.35 912.68,483.2 941.71,554.75 970.73,593.9 999.75,647.9 1028.77,674.9 1057.78,677.6 1086.8,683 1115.83,689.75" stroke="#189bd8" stroke-width="4.1"/>
<polyline class="ln" points="680.52,700.55 709.55,676.25 738.57,664.1 767.58,633.05 796.61,605.38 825.62,549.35 854.65,516.95 883.66,495.35 912.68,472.4 941.71,545.3 970.73,585.8 999.75,629 1028.77,645.2 1057.78,653.3 1086.8,661.4 1115.83,670.85 1144.85,680.3 1173.87,688.4 1202.89,692.45 1231.9,696.5" stroke="#8c1007" stroke-width="6.5"/>
<text><tspan class="ct" x="666.9" y="456.5" font-size="15.3" textLength="388.45" lengthAdjust="spacingAndGlyphs">Wskaźnik cen konsumenta (inflacja), roczna zmiana,</tspan> <tspan class="cp" x="1058.46" y="456.5" font-size="15.3" textLength="34.82" lengthAdjust="spacingAndGlyphs">proc.</tspan></text>
</g>
<g>
<text class="lgt" x="1275.19" y="107.8" font-size="15.5" textLength="85.44" lengthAdjust="spacingAndGlyphs">projekcje z:</text>
<polyline class="ln" points="1276,175 1317,141 1317,177 1358.3,138" stroke="#8c1007" stroke-width="6"/>
<text><tspan class="lg" x="1275.1" y="194.3" font-size="15.5" textLength="42.78" lengthAdjust="spacingAndGlyphs">marca</tspan> <tspan class="lg" x="1321.97" y="194.3" font-size="12.8" textLength="32.48" lengthAdjust="spacingAndGlyphs">2022</tspan></text>
<polyline class="ln" points="1276,257 1317,223 1317,259 1358.3,220" stroke="#189bd8" stroke-width="4.1"/>
<text><tspan class="lg" x="1275.13" y="279.3" font-size="15.5" textLength="30.83" lengthAdjust="spacingAndGlyphs">lipca</tspan> <tspan class="lg" x="1310.07" y="279.3" font-size="12.8" textLength="32.48" lengthAdjust="spacingAndGlyphs">2022</tspan></text>
<polyline class="ln" points="1276,346 1317,312 1317,348 1358.3,309" stroke="#79c8f0" stroke-width="4.1"/>
<text><tspan class="lg" x="1275.09" y="368.3" font-size="15.5" textLength="62.18" lengthAdjust="spacingAndGlyphs">listopada</tspan> <tspan class="lg" x="1341.28" y="368.3" font-size="12.8" textLength="31.86" lengthAdjust="spacingAndGlyphs">2022</tspan></text>
</g>
<text class="src" x="1275.75" y="736.7" font-size="10.4" textLength="62.74" lengthAdjust="spacingAndGlyphs">Źródło: NBP</text>
<g fill="none" stroke="#de2240" stroke-width="1.3">
<circle cx="1281.4" cy="777.9" r="4.7"/><circle cx="1294.1" cy="777.9" r="4.7"/>
</g>
<text x="1281.4" y="780.9" font-size="8.4" font-weight="bold" fill="#de2240" stroke="#de2240" stroke-width="0.3" text-anchor="middle">C</text>
<text x="1294.4" y="780.9" font-size="8.4" font-weight="bold" fill="#de2240" stroke="#de2240" stroke-width="0.3" text-anchor="middle">P</text>
<text class="lgt" x="1310.29" y="781.9" font-size="8.2" textLength="12.31" lengthAdjust="spacingAndGlyphs">MC</text>
</svg>
</body></html>
